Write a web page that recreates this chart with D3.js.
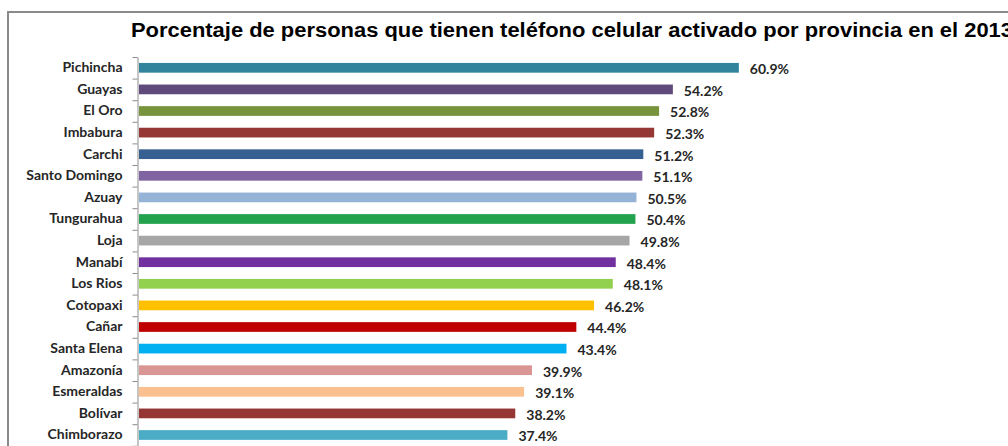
<!DOCTYPE html>
<html>
<head>
<meta charset="utf-8">
<script src="https://cdn.jsdelivr.net/npm/d3@7"></script>
<style>
  body { margin: 0; background: #fff; overflow: hidden; }
  svg { display: block; }
</style>
</head>
<body>
<div id="chart"></div>
<script>
var provincias = ['Pichincha', 'Guayas', 'El Oro', 'Imbabura', 'Carchi', 'Santo Domingo', 'Azuay',
  'Tungurahua', 'Loja', 'Manabí', 'Los Rios', 'Cotopaxi', 'Cañar', 'Santa Elena', 'Amazonía',
  'Esmeraldas', 'Bolívar', 'Chimborazo']
var porcentajes = [60.9, 54.2, 52.8, 52.3, 51.2, 51.1, 50.5, 50.4, 49.8, 48.4, 48.1, 46.2, 44.4,
  43.4, 39.9, 39.1, 38.2, 37.4]
var colores = ['#31849b', '#604a7b', '#77933c', '#953735', '#376092', '#8064a2', '#95b3d7',
  '#23a24d', '#a6a6a6', '#7030a0', '#92d050', '#ffc000', '#c00000', '#00b0f0', '#da9694',
  '#fac090', '#963634', '#4bacc6']

var width = 1008
var height = 446

var svg = d3
  .select('#chart')
  .append('svg')
  .attr('width', width)
  .attr('height', height)

// chart frame (only top/left edges are visible)
svg
  .append('rect')
  .attr('x', 8)
  .attr('y', 12)
  .attr('width', 1100)
  .attr('height', 500)
  .attr('fill', '#fff')
  .attr('stroke', '#8a8a8a')
  .attr('stroke-width', 2)

// title runs off the right edge like in the original
svg
  .append('text')
  .text('Porcentaje de personas que tienen teléfono celular activado por provincia en el 2013')
  .attr('x', 131)
  .attr('y', 36.5)
  .attr('textLength', 882)
  .attr('lengthAdjust', 'spacingAndGlyphs')
  .attr('font-family', 'Liberation Sans, Arial, sans-serif')
  .attr('font-size', 19.5)
  .attr('font-weight', 'bold')
  .attr('fill', '#000')

var x0 = 139
var xPositionScale = d3.scaleLinear().domain([0, 70]).range([x0, x0 + 70 * 9.85])

var yTop = 57
var step = 21.6
var yPositionScale = d3
  .scaleBand()
  .domain(provincias)
  .range([yTop, yTop + provincias.length * step])
  .paddingInner(0.55)
  .paddingOuter(0.275)

var data = provincias.map(function(p, i) {
  return { name: p, value: porcentajes[i], color: colores[i] }
})

// bars
svg
  .selectAll('.bar')
  .data(data)
  .enter()
  .append('rect')
  .attr('class', 'bar')
  .attr('x', xPositionScale(0))
  .attr('y', d => yPositionScale(d.name))
  .attr('width', d => xPositionScale(d.value) - xPositionScale(0))
  .attr('height', yPositionScale.bandwidth())
  .attr('fill', d => d.color)

// value labels
svg
  .selectAll('.value')
  .data(data)
  .enter()
  .append('text')
  .attr('class', 'value')
  .text(d => d.value.toFixed(1) + '%')
  .attr('x', d => xPositionScale(d.value) + 11)
  .attr('y', d => yPositionScale(d.name) + yPositionScale.bandwidth() / 2 + 1.5)
  .attr('dy', '0.35em')
  .attr('font-family', 'Lato, sans-serif')
  .attr('font-size', 14)
  .attr('font-weight', 'bold')
  .attr('fill', '#262626')

// category axis
var yAxis = d3.axisLeft(yPositionScale).tickSize(0).tickPadding(15)
svg
  .append('g')
  .attr('class', 'axis y-axis')
  .attr('transform', 'translate(' + (x0 - 1.5) + ',0)')
  .call(yAxis)

svg.selectAll('.y-axis path').remove()
svg
  .selectAll('.y-axis text')
  .attr('font-family', 'Lato, sans-serif')
  .attr('font-size', 14)
  .attr('font-weight', 'bold')
  .attr('fill', '#262626')

// band boundary ticks + axis line
var tickScale = d3
  .scaleLinear()
  .domain([0, provincias.length])
  .range([yTop, yTop + provincias.length * step])
var tickAxis = d3
  .axisLeft(tickScale)
  .tickValues(d3.range(provincias.length + 1))
  .tickSize(5)
  .tickSizeOuter(0)
  .tickFormat('')
svg
  .append('g')
  .attr('class', 'axis tick-axis')
  .attr('transform', 'translate(' + (x0 - 1.5) + ',0)')
  .call(tickAxis)

svg.selectAll('.tick-axis path').attr('stroke', '#8c8c8c')
svg.selectAll('.tick-axis line').attr('stroke', '#8c8c8c')
</script>
</body>
</html>
